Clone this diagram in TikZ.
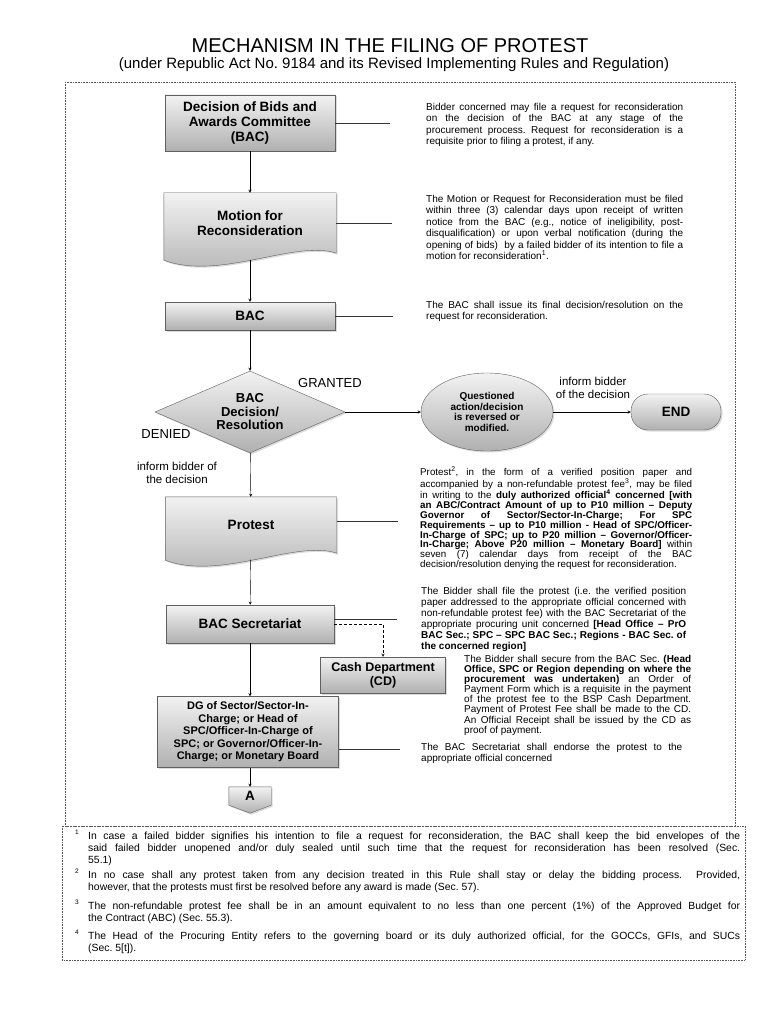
\documentclass[tikz,border=0pt]{standalone}
\usepackage{fontspec}
\setmainfont{Liberation Sans}
\usetikzlibrary{shapes.geometric,shadows,backgrounds,calc}
\tolerance=9999
\hbadness=10000
\frenchspacing

\tikzset{
  shade/.style={draw=gray!75!black, top color=gray!10, bottom color=gray!62,
    drop shadow={shadow xshift=1.5pt,shadow yshift=-1.5pt,fill=gray!55}},
  box/.style={shade, align=center, inner sep=0pt, font=\bfseries\fontsize{13.5}{15}\selectfont},
  boxtext/.style={align=center, inner sep=0pt, font=\bfseries\fontsize{13.5}{15}\selectfont},
  note/.style={anchor=north west, inner sep=0pt, align=justify, font=\fontsize{10}{11.4}\selectfont},
  fnote/.style={anchor=north west, inner sep=0pt, text width=652pt, align=justify, font=\fontsize{10.4}{12}\selectfont},
  fnum/.style={anchor=north, inner sep=0pt, font=\fontsize{6.5}{7}\selectfont},
  lbl/.style={align=center, inner sep=0pt, font=\fontsize{11.5}{13}\selectfont},
  frame/.style={gray!70!black, dash pattern=on 0.8pt off 0.8pt},
  link/.style={gray!40!black},
}

\begin{document}
\begin{tikzpicture}[x=1pt,y=-1pt,>=stealth]
\useasboundingbox (0,0) rectangle (768,1024);

% title
\node[inner sep=0pt, font=\fontsize{20}{22}\selectfont] (title) at (390,45.5) {MECHANISM IN THE FILING OF PROTEST};
\node[inner sep=0pt, font=\fontsize{15}{17}\selectfont] (subtitle) at (394,65) {(under Republic Act No. 9184 and its Revised Implementing Rules and Regulation)};

% frames
\draw[frame] (65,82) rectangle (735,826);
\draw[frame] (62,826) rectangle (745,960);

% flow boxes
\node[box, minimum width=170pt, minimum height=56pt] (dba) at (250,123) {Decision of Bids and\\Awards Committee\\(BAC)};
\node[boxtext, minimum width=172pt, minimum height=60pt] (motion) at (250,223) {Motion for\\Reconsideration};
\node[box, minimum width=170pt, minimum height=28pt] (bac) at (250,316) {BAC};
\node[box, diamond, aspect=2.3, minimum width=190pt, minimum height=82pt, font=\bfseries\fontsize{13}{13.5}\selectfont] (dec) at (250,412) {BAC\\Decision/\\Resolution};
\node[box, ellipse, minimum width=132pt, minimum height=78pt, font=\bfseries\fontsize{10}{10.5}\selectfont] (ques) at (487,412) {Questioned\\action/decision\\is reversed or\\modified.};
\node[box, rounded corners=17pt, minimum width=90pt, minimum height=36pt] (endn) at (676,412) {END};
\node[boxtext, minimum width=171pt, minimum height=56pt] (protest) at (251,525) {Protest};
\node[box, minimum width=168pt, minimum height=38pt] (bacsec) at (250,624) {BAC Secretariat};
\node[box, minimum width=125pt, minimum height=36pt, font=\bfseries\fontsize{12.5}{14}\selectfont] (cash) at (383,675) {Cash Department\\(CD)};
\node[box, minimum width=181pt, minimum height=71pt, font=\bfseries\fontsize{11}{12.5}\selectfont] (dg) at (248,732) {DG of Sector/Sector-In-\\Charge; or Head of\\SPC/Officer-In-Charge of\\SPC; or Governor/Officer-In-\\Charge; or Monetary Board};
\node[boxtext, minimum width=42pt, minimum height=18pt] (offA) at (250,796) {A};

% page and the shapes behind the document boxes and the connector
\begin{scope}[on background layer]
  \fill[white] (0,0) rectangle (768,1024);
  \path[shade] (motion.north west) -- (motion.north east) -- (motion.south east)
    .. controls ($(motion.south east)+(-40,-14)$) and ($(motion.south west)+(55,28)$) .. ($(motion.south west)+(0,7)$) -- cycle;
  \path[shade] (protest.north west) -- (protest.north east) -- (protest.south east)
    .. controls ($(protest.south east)+(-40,-14)$) and ($(protest.south west)+(55,28)$) .. ($(protest.south west)+(0,7)$) -- cycle;
  \path[shade] (offA.north west) -- (offA.north east) -- (offA.south east) -- ($(offA.south)+(0,8)$) -- (offA.south west) -- cycle;
\end{scope}

% labels
\node[lbl, font=\fontsize{13}{14}\selectfont] (granted) at (330,383) {GRANTED};
\node[lbl, font=\fontsize{13}{14}\selectfont] (denied) at (166,434) {DENIED};
\node[lbl] (inf1) at (177,473) {inform bidder of\\the decision};
\node[lbl] (inf2) at (593,388) {inform bidder\\of the decision};

% arrows
\draw[->] (dba) -- (motion);
\draw[->, shorten <=6.5pt] (motion) -- (bac);
\draw[->] (bac) -- (dec);
\draw[->] (dec) -- (ques);
\draw[->] (ques) -- (endn);
\draw[->] (dec) -- (protest);
\draw[->, shorten <=6.5pt] (protest) -- (bacsec);
\draw[->] (bacsec) -- (bacsec |- dg.north);
\draw[->] (dg.south -| offA) -- (offA);
\draw[->, dash pattern=on 3pt off 2pt] (bacsec.east) -| (cash.north);

% lines to the notes
\coordinate (n1) at (390,123);
\coordinate (n2) at (392,223);
\coordinate (n3) at (393,316);
\coordinate (n5) at (398,521);
\coordinate (n6) at (397,619);
\coordinate (n7) at (400,749);
\draw[link] (dba) -- (n1);
\draw[link] (motion) -- (n2);
\draw[link] (bac) -- (n3);
\draw[link] (n5 -| protest.east) -- (n5);
\draw[link] (n6 -| bacsec.east) -- (n6);
\draw[link] (n7 -| dg.east) -- (n7);

% notes
\node[note, text width=257pt] (t1) at (426,103) {Bidder concerned may file a request for reconsideration\linebreak on the decision of the BAC at any stage of the\linebreak procurement process. Request for reconsideration is a\linebreak requisite prior to filing a protest, if any.};
\node[note, text width=257pt] (t2) at (426,195) {The Motion or Request for Reconsideration must be filed\linebreak within three (3) calendar days upon receipt of written\linebreak notice from the BAC (e.g., notice of ineligibility, post-\linebreak disqualification) or upon verbal notification (during the\linebreak opening of bids)\ \ by a failed bidder of its intention to file a\linebreak motion for reconsideration\textsuperscript{1}.};
\node[note, text width=257pt] (t3) at (426,301) {The BAC shall issue its final decision/resolution on the\linebreak request for reconsideration.};
\node[note, text width=272pt, font=\fontsize{9.8}{9.9}\selectfont] (t4) at (420,467) {Protest\textsuperscript{2}, in the form of a verified position paper and\linebreak accompanied by a non-refundable protest fee\textsuperscript{3}, may be filed\linebreak in writing to the \textbf{duly authorized official\textsuperscript{4} concerned [with\linebreak an ABC/Contract Amount of up to P10 million -- Deputy\linebreak Governor of Sector/Sector-In-Charge; For SPC\linebreak Requirements -- up to P10 million - Head of SPC/Officer-\linebreak In-Charge of SPC; up to P20 million -- Governor/Officer-\linebreak In-Charge; Above P20 million -- Monetary Board]} within\linebreak seven (7) calendar days from receipt of the BAC\linebreak decision/resolution denying the request for reconsideration.};
\node[note, text width=265pt, font=\fontsize{10}{11}\selectfont] (t5) at (421,587) {The Bidder shall file the protest (i.e. the verified position\linebreak paper addressed to the appropriate official concerned with\linebreak non-refundable protest fee) with the BAC Secretariat of the\linebreak appropriate procuring unit concerned \textbf{[Head Office -- PrO\linebreak BAC Sec.; SPC -- SPC BAC Sec.; Regions - BAC Sec. of\linebreak the concerned region]}};
\node[note, text width=227pt, font=\fontsize{10}{10.1}\selectfont] (t6) at (464,655) {The Bidder shall secure from the BAC Sec. \textbf{(Head\linebreak Office, SPC or Region depending on where the\linebreak procurement was undertaken)} an Order of\linebreak Payment Form which is a requisite in the payment\linebreak of the protest fee to the BSP Cash Department.\linebreak Payment of Protest Fee shall be made to the CD.\linebreak An Official Receipt shall be issued by the CD as\linebreak proof of payment.};
\node[note, text width=261pt] (t7) at (421,743) {The BAC Secretariat shall endorse the protest to the\linebreak appropriate official concerned};

% footnotes
\node[fnum] (s1) at (77,830) {1};
\node[fnote] (f1) at (88,832) {In case a failed bidder signifies his intention to file a request for reconsideration, the BAC shall keep the bid envelopes of the\linebreak said failed bidder unopened and/or duly sealed until such time that the request for reconsideration has been resolved (Sec.\linebreak 55.1)};
\node[fnum] (s2) at (77,869) {2};
\node[fnote] (f2) at (88,871) {In no case shall any protest taken from any decision treated in this Rule shall stay or delay the bidding process.\ \ Provided,\linebreak however, that the protests must first be resolved before any award is made (Sec. 57).};
\node[fnum] (s3) at (77,900) {3};
\node[fnote] (f3) at (88,902) {The non-refundable protest fee shall be in an amount equivalent to no less than one percent (1\%) of the Approved Budget for\linebreak the Contract (ABC) (Sec. 55.3).};
\node[fnum] (s4) at (77,930) {4};
\node[fnote] (f4) at (88,932) {The Head of the Procuring Entity refers to the governing board or its duly authorized official, for the GOCCs, GFIs, and SUCs\linebreak (Sec. 5[t]).};
\end{tikzpicture}
\end{document}
